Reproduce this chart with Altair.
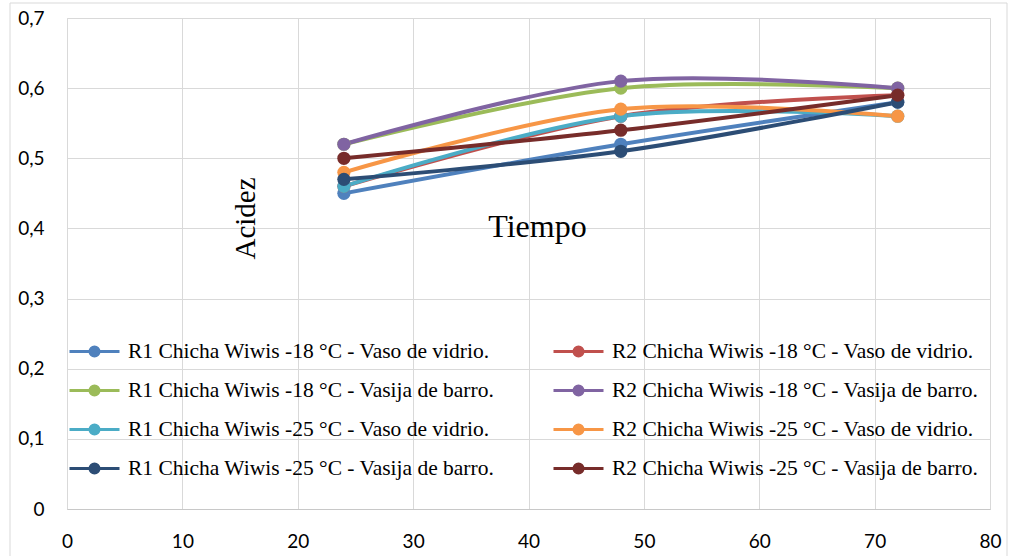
import altair as alt
import pandas as pd

series = [
    "R1 Chicha Wiwis -18 °C - Vaso de vidrio.",
    "R2 Chicha Wiwis -18 °C - Vaso de vidrio.",
    "R1 Chicha Wiwis -18 °C - Vasija de barro.",
    "R2 Chicha Wiwis -18 °C - Vasija de barro.",
    "R1 Chicha Wiwis -25 °C - Vaso de vidrio.",
    "R2 Chicha Wiwis -25 °C - Vaso de vidrio.",
    "R1 Chicha Wiwis -25 °C - Vasija de barro.",
    "R2 Chicha Wiwis -25 °C - Vasija de barro.",
]
colors = ["#4F81BD", "#C0504D", "#9BBB59", "#8064A2",
          "#4BACC6", "#F79646", "#2C4D75", "#772C2A"]
times = [24, 48, 72]
values = [
    [0.45, 0.52, 0.58],
    [0.46, 0.56, 0.59],
    [0.52, 0.60, 0.60],
    [0.52, 0.61, 0.60],
    [0.46, 0.56, 0.56],
    [0.48, 0.57, 0.56],
    [0.47, 0.51, 0.58],
    [0.50, 0.54, 0.59],
]

rows = []
for i, (s, vals) in enumerate(zip(series, values)):
    for t, v in zip(times, vals):
        rows.append({"serie": s, "orden": i, "Tiempo": t, "Acidez": v})
df = pd.DataFrame(rows)

# legend fills column by column: reorder so it reads row by row (two columns)
leg_idx = [0, 2, 4, 6, 1, 3, 5, 7]
leg_domain = [series[i] for i in leg_idx]
leg_range = [colors[i] for i in leg_idx]


def ring(r):
    return f"M{-r},0A{r},{r} 0 1,0 {r},0A{r},{r} 0 1,0 {-r},0"


sym_path = "M-2.5,0H2.5" + ring(0.45) + ring(0.27) + ring(0.1)

legend = alt.Legend(
    title=None, orient="none", legendX=16, legendY=322, columns=2,
    symbolType=sym_path, symbolSize=400, symbolStrokeWidth=3,
    labelOffset=22, labelFont="Liberation Serif", labelFontSize=21.5,
    labelColor="#000000", columnPadding=52, rowPadding=17, padding=0,
    labelLimit=700,
)

cscale = alt.Scale(domain=leg_domain, range=leg_range)
color = alt.Color("serie:N", scale=cscale, legend=legend)

label_font = "Lato"
xenc = alt.X("Tiempo:Q", scale=alt.Scale(domain=[0, 80], nice=False),
             axis=alt.Axis(values=list(range(0, 81, 10)), title="Tiempo",
                           titleX=470, titleY=-283, titleFont="Liberation Serif",
                           titleFontSize=32, titleFontWeight="normal",
                           titleBaseline="middle", titleColor="#000000",
                           labelFont=label_font, labelFontSize=19, labelColor="#000000",
                           labelPadding=23, labelFlush=False, ticks=False, grid=True,
                           gridColor="#d9d9d9", domainColor="#c8c8c8"))
yenc = alt.Y("Acidez:Q", scale=alt.Scale(domain=[0, 0.7], nice=False),
             axis=alt.Axis(values=[0, 0.1, 0.2, 0.3, 0.4, 0.5, 0.6, 0.7], title="Acidez",
                           titleX=178, titleY=200, titleFont="Liberation Serif",
                           titleFontSize=29, titleFontWeight="normal",
                           titleBaseline="middle", titleColor="#000000",
                           labelExpr="datum.value == 0 ? '0' : replace(format(datum.value, '.1f'), '.', ',')",
                           labelFont=label_font, labelFontSize=19, labelColor="#000000",
                           labelPadding=23, labelFlush=False, ticks=False, grid=True,
                           domain=False, gridColor="#d9d9d9"))

base = alt.Chart(df)
lines = base.mark_line(strokeWidth=4, interpolate="cardinal").encode(
    x=xenc, y=yenc, color=color)
points = base.mark_circle(size=175, opacity=1).encode(
    x="Tiempo:Q", y="Acidez:Q",
    color=alt.Color("serie:N", legend=None, scale=cscale),
    order="orden:Q")

border = alt.Chart(pd.DataFrame({"a": [0]})).mark_rect(
    fill=None, stroke="#d9d9d9", strokeWidth=1).encode(
    x=alt.value(-57), x2=alt.value(940), y=alt.value(-15), y2=alt.value(545))

chart = alt.layer(border, lines, points).properties(
    width=923, height=491,
    autosize=alt.AutoSizeParams(type="none"),
    padding={"left": 67, "top": 18, "right": 19, "bottom": 47},
).configure_view(stroke=None).configure(background="#ffffff")

chart.save("out.html", embed_options={"renderer": "svg", "actions": False})
